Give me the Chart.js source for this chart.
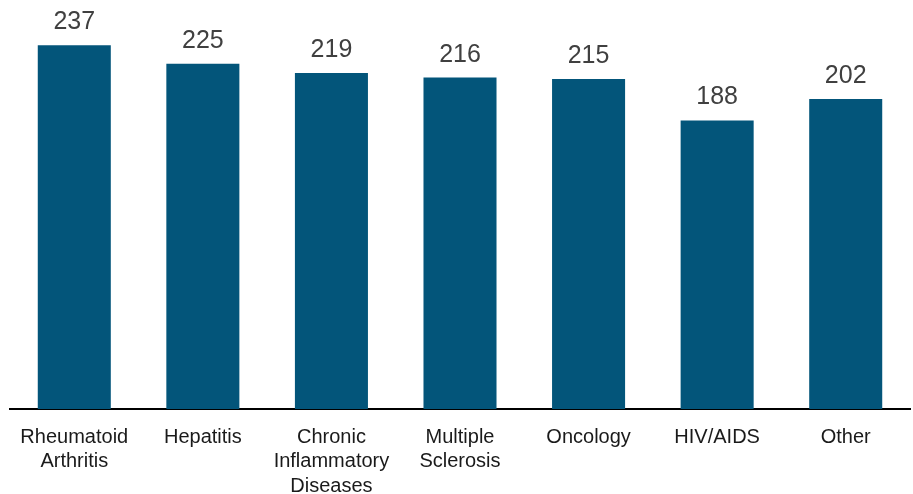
<!DOCTYPE html>
<html>
<head>
<meta charset="utf-8">
<script src="https://cdn.jsdelivr.net/npm/chart.js@4.4.1/dist/chart.umd.min.js"></script>
<style>
  html, body { margin: 0; padding: 0; background: #ffffff; }
  #wrap { width: 913px; height: 494px; position: relative; }
</style>
</head>
<body>
<div id="wrap"><canvas id="patientsChart"></canvas></div>
<script>
const categories = [
  ["Rheumatoid", "Arthritis"],
  ["Hepatitis"],
  ["Chronic", "Inflammatory", "Diseases"],
  ["Multiple", "Sclerosis"],
  ["Oncology"],
  ["HIV/AIDS"],
  ["Other"],
];
const values = [237, 225, 219, 216, 215, 188, 202];

const BAR_COLOR = "#03557a";
const FONT = "'Liberation Sans', Arial, sans-serif";

// value labels sitting above each bar
const valueLabels = {
  id: "valueLabels",
  afterDatasetsDraw(chart) {
    const { ctx } = chart;
    const meta = chart.getDatasetMeta(0);
    ctx.save();
    ctx.font = `25px ${FONT}`;
    ctx.fillStyle = "#404040";
    ctx.textAlign = "center";
    ctx.textBaseline = "alphabetic";
    meta.data.forEach((bar, i) => {
      ctx.fillText(String(values[i]), bar.x, bar.y - 16);
    });
    ctx.restore();
  },
};

new Chart(document.getElementById("patientsChart"), {
  type: "bar",
  data: {
    labels: categories,
    datasets: [
      {
        data: values,
        backgroundColor: BAR_COLOR,
        borderWidth: 0,
        categoryPercentage: 1,
        barPercentage: 0.568,
      },
    ],
  },
  options: {
    responsive: true,
    maintainAspectRatio: false,
    animation: false,
    layout: {
      padding: { left: 10, right: 3, top: 10, bottom: 0 },
    },
    plugins: {
      legend: { display: false },
      tooltip: { enabled: false },
    },
    scales: {
      x: {
        grid: { display: false, drawTicks: false },
        border: { display: true, color: "#000000", width: 2 },
        afterFit(scale) {
          scale.height = 85;
        },
        ticks: {
          autoSkip: false,
          maxRotation: 0,
          padding: 16,
          color: "#1a1a1a",
          font: { family: FONT, size: 20, lineHeight: 1.22 },
        },
      },
      y: {
        display: false,
        min: 0,
        max: 260,
      },
    },
  },
  plugins: [valueLabels],
});
</script>
</body>
</html>
